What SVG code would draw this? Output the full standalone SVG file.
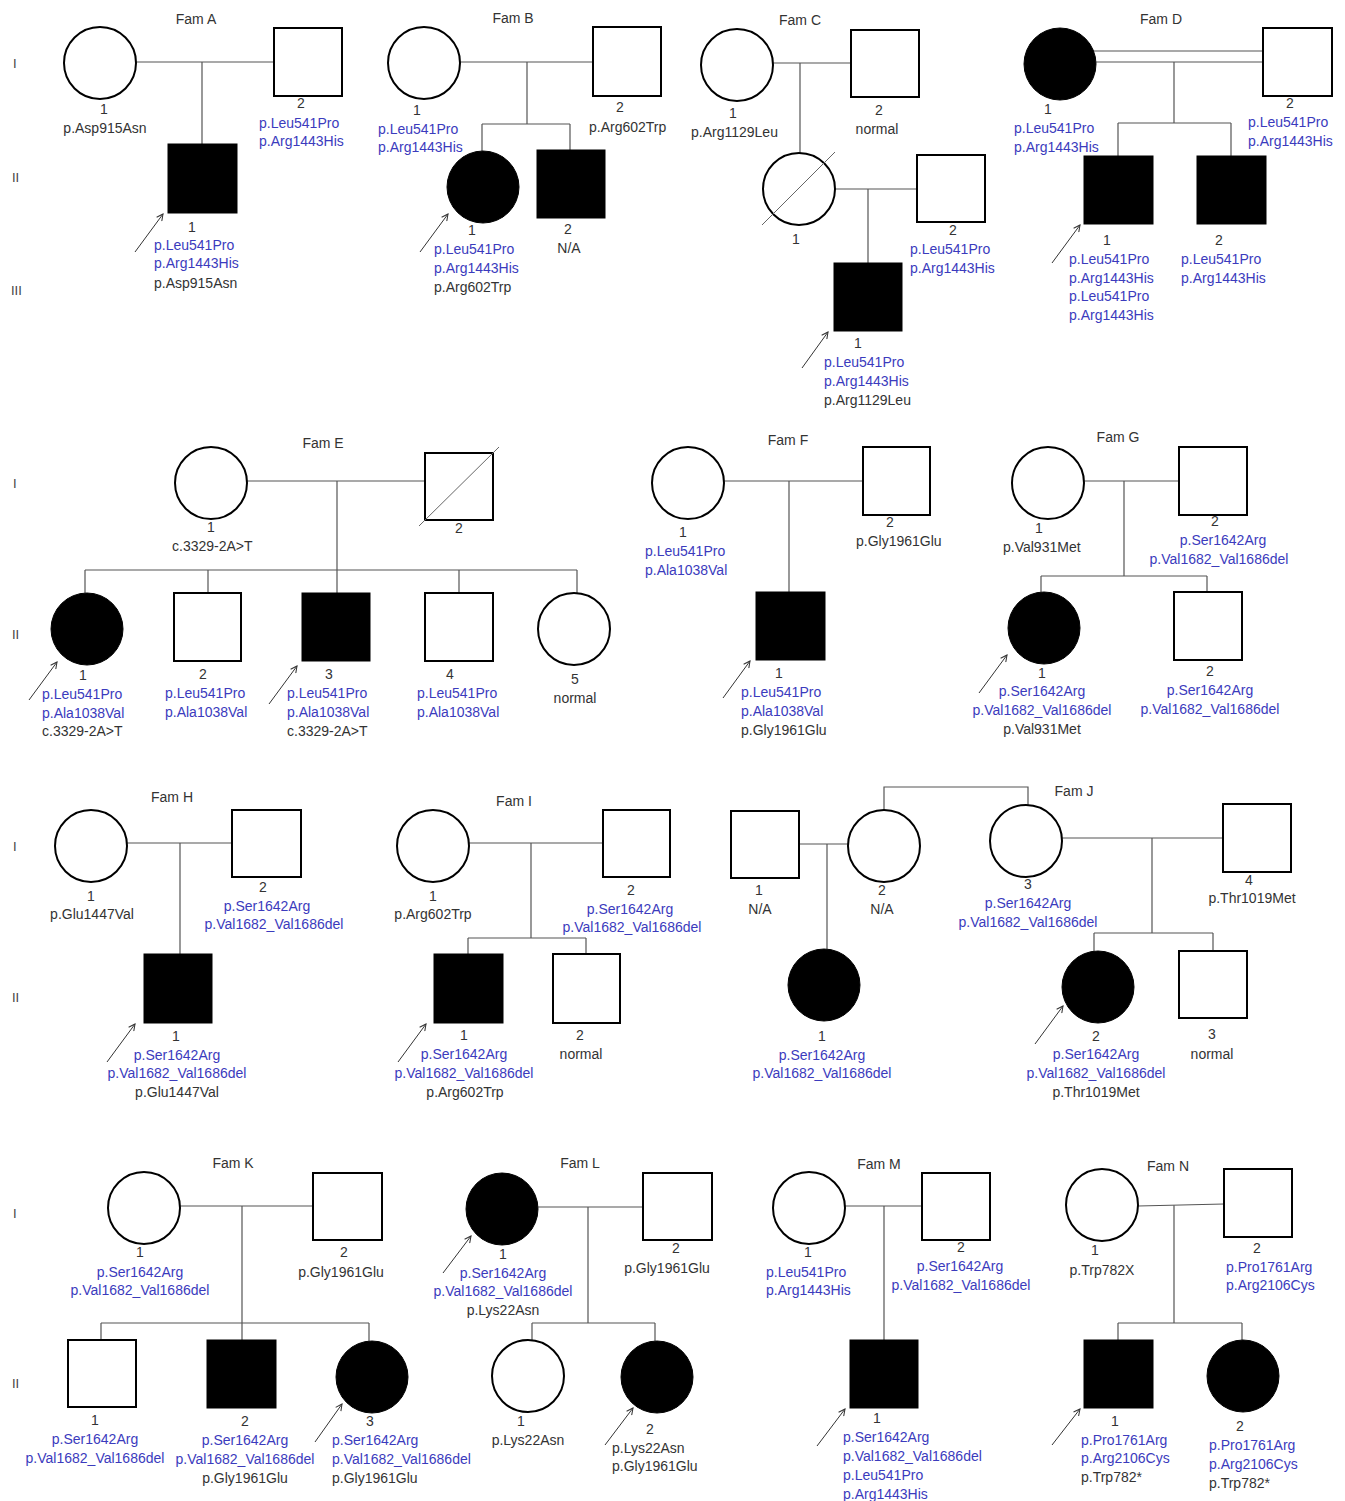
<svg xmlns="http://www.w3.org/2000/svg" width="1345" height="1501" viewBox="0 0 1345 1501">
<style>
.o{fill:#fff;stroke:#000;stroke-width:2}
.f{fill:#000;stroke:#000;stroke-width:1}
.ln{fill:none;stroke:#555;stroke-width:1.2}
.sl{fill:none;stroke:#666;stroke-width:1}
.ar{fill:none;stroke:#333;stroke-width:1;marker-end:url(#ah)}
text{font-family:"Liberation Sans",Arial,sans-serif;font-size:14px;fill:#333}
.b{fill:#3b3bbd}
.m{text-anchor:middle}
.g{font-size:13px;fill:#444}
</style>
<defs>
<marker id="ah" viewBox="0 0 10 10" refX="9" refY="5" markerWidth="8" markerHeight="8" markerUnits="userSpaceOnUse" orient="auto">
<path d="M1,1 L9,5 L1,9" fill="none" stroke="#333" stroke-width="1.3"/>
</marker>
</defs>
<rect width="1345" height="1501" fill="#fff"/>

<g id="labels">
<text class="g" x="13" y="68">I</text><text class="g" x="12" y="182">II</text><text class="g" x="11" y="295">III</text>
<text class="g" x="13" y="488">I</text><text class="g" x="12" y="639">II</text>
<text class="g" x="13" y="851">I</text><text class="g" x="12" y="1002">II</text>
<text class="g" x="13" y="1218">I</text><text class="g" x="12" y="1388">II</text>
<text class="m" x="196" y="24">Fam A</text>
<text class="m" x="513" y="23">Fam B</text>
<text class="m" x="800" y="25">Fam C</text>
<text class="m" x="1161" y="24">Fam D</text>
<text class="m" x="323" y="448">Fam E</text>
<text class="m" x="788" y="445">Fam F</text>
<text class="m" x="1118" y="442">Fam G</text>
<text class="m" x="172" y="802">Fam H</text>
<text class="m" x="514" y="806">Fam I</text>
<text class="m" x="1074" y="796">Fam J</text>
<text class="m" x="233" y="1168">Fam K</text>
<text class="m" x="580" y="1168">Fam L</text>
<text class="m" x="879" y="1169">Fam M</text>
<text class="m" x="1168" y="1171">Fam N</text>
</g>

<g id="connectors">
<!-- A -->
<path class="ln" d="M136,62 H274 M202,62 V144"/>
<path class="ar" d="M135,252 L163,214"/>
<!-- B -->
<path class="ln" d="M460,62 H593 M527,62 V124 M482,124 H570 M482,124 V151 M570,124 V150"/>
<path class="ar" d="M420,252 L448,214"/>
<!-- C -->
<path class="ln" d="M773,63 H851 M800,63 V153 M835,189 H917 M868,189 V263"/>
<path class="ar" d="M802,368 L828,332"/>
<!-- D -->
<path class="ln" d="M1093,51 H1263 M1096,62 H1263 M1174,62 V123 M1118,123 H1231 M1118,123 V156 M1231,123 V156"/>
<path class="ar" d="M1052,263 L1080,225"/>
<!-- E -->
<path class="ln" d="M247,481 H425 M337,481 V593 M85,570 H577 M85,570 V593 M208,570 V593 M459,570 V593 M577,570 V593"/>
<path class="ar" d="M29,700 L57,662"/>
<path class="ar" d="M269,704 L297,666"/>
<!-- F -->
<path class="ln" d="M724,481 H863 M789,481 V592"/>
<path class="ar" d="M723,698 L750,661"/>
<!-- G -->
<path class="ln" d="M1084,481 H1179 M1124,481 V576 M1041,576 H1207 M1041,576 V592 M1207,576 V592"/>
<path class="ar" d="M979,693 L1007,655"/>
<!-- H -->
<path class="ln" d="M127,843 H232 M180,843 V954"/>
<path class="ar" d="M107,1062 L135,1024"/>
<!-- I -->
<path class="ln" d="M469,843 H603 M531,843 V938 M468,938 H586 M468,938 V954 M586,938 V954"/>
<path class="ar" d="M398,1062 L426,1024"/>
<!-- J -->
<path class="ln" d="M799,844 H849 M827,844 V949 M884,810 V787 H1028 V805 M1062,838 H1223 M1152,838 V933 M1094,933 H1213 M1094,933 V951 M1213,933 V951"/>
<path class="ar" d="M1035,1044 L1063,1006"/>
<!-- K -->
<path class="ln" d="M180,1206 H313 M242,1206 V1340 M101,1323 H369 M101,1323 V1340 M369,1323 V1341"/>
<path class="ar" d="M315,1442 L342,1404"/>
<!-- L -->
<path class="ln" d="M538,1207 H643 M588,1207 V1323 M532,1323 H655 M532,1323 V1340 M655,1323 V1341"/>
<path class="ar" d="M443,1273 L471,1236"/>
<path class="ar" d="M605,1445 L633,1408"/>
<!-- M -->
<path class="ln" d="M845,1206 H922 M884,1206 V1340"/>
<path class="ar" d="M817,1446 L845,1409"/>
<!-- N -->
<path class="ln" d="M1138,1206 L1224,1204 M1174,1205 V1323 M1118,1323 H1242 M1118,1323 V1340 M1242,1323 V1340"/>
<path class="ar" d="M1052,1445 L1080,1409"/>
</g>

<!-- Fam A -->
<g id="A-I1"><circle class="o" cx="100" cy="63" r="36"/><text class="m" x="104" y="114">1</text><text class="m" x="105" y="133">p.Asp915Asn</text></g>
<g id="A-I2"><rect class="o" x="274" y="28" width="68" height="68"/><text class="m" x="301" y="108">2</text><text class="b" x="259" y="128">p.Leu541Pro</text><text class="b" x="259" y="146">p.Arg1443His</text></g>
<g id="A-II1"><rect class="f" x="168" y="144" width="69" height="69"/><text class="m" x="192" y="232">1</text><text class="b" x="154" y="250">p.Leu541Pro</text><text class="b" x="154" y="268">p.Arg1443His</text><text x="154" y="288">p.Asp915Asn</text></g>

<!-- Fam B -->
<g id="B-I1"><circle class="o" cx="424" cy="63" r="36"/><text class="m" x="417" y="115">1</text><text class="b" x="378" y="134">p.Leu541Pro</text><text class="b" x="378" y="152">p.Arg1443His</text></g>
<g id="B-I2"><rect class="o" x="593" y="27" width="68" height="69"/><text class="m" x="620" y="112">2</text><text x="589" y="132">p.Arg602Trp</text></g>
<g id="B-II1"><circle class="f" cx="483" cy="187" r="36"/><text class="m" x="472" y="235">1</text><text class="b" x="434" y="254">p.Leu541Pro</text><text class="b" x="434" y="273">p.Arg1443His</text><text x="434" y="292">p.Arg602Trp</text></g>
<g id="B-II2"><rect class="f" x="537" y="150" width="68" height="68"/><text class="m" x="568" y="234">2</text><text class="m" x="569" y="253">N/A</text></g>

<!-- Fam C -->
<g id="C-I1"><circle class="o" cx="737" cy="65" r="36"/><text class="m" x="733" y="118">1</text><text x="691" y="137">p.Arg1129Leu</text></g>
<g id="C-I2"><rect class="o" x="851" y="30" width="68" height="67"/><text class="m" x="879" y="115">2</text><text class="m" x="877" y="134">normal</text></g>
<g id="C-II1"><circle class="o" cx="799" cy="189" r="36"/><path class="sl" d="M762,225 L835,152"/><text class="m" x="796" y="244">1</text></g>
<g id="C-II2"><rect class="o" x="917" y="155" width="68" height="67"/><text class="m" x="953" y="235">2</text><text class="b" x="910" y="254">p.Leu541Pro</text><text class="b" x="910" y="273">p.Arg1443His</text></g>
<g id="C-III1"><rect class="f" x="834" y="263" width="68" height="68"/><text class="m" x="858" y="348">1</text><text class="b" x="824" y="367">p.Leu541Pro</text><text class="b" x="824" y="386">p.Arg1443His</text><text x="824" y="405">p.Arg1129Leu</text></g>

<!-- Fam D -->
<g id="D-I1"><circle class="f" cx="1060" cy="64" r="36"/><text class="m" x="1048" y="114">1</text><text class="b" x="1014" y="133">p.Leu541Pro</text><text class="b" x="1014" y="152">p.Arg1443His</text></g>
<g id="D-I2"><rect class="o" x="1263" y="28" width="69" height="68"/><text class="m" x="1290" y="108">2</text><text class="b" x="1248" y="127">p.Leu541Pro</text><text class="b" x="1248" y="146">p.Arg1443His</text></g>
<g id="D-II1"><rect class="f" x="1084" y="156" width="69" height="68"/><text class="m" x="1107" y="245">1</text><text class="b" x="1069" y="264">p.Leu541Pro</text><text class="b" x="1069" y="283">p.Arg1443His</text><text class="b" x="1069" y="301">p.Leu541Pro</text><text class="b" x="1069" y="320">p.Arg1443His</text></g>
<g id="D-II2"><rect class="f" x="1197" y="156" width="69" height="68"/><text class="m" x="1219" y="245">2</text><text class="b" x="1181" y="264">p.Leu541Pro</text><text class="b" x="1181" y="283">p.Arg1443His</text></g>

<!-- Fam E -->
<g id="E-I1"><circle class="o" cx="211" cy="483" r="36"/><text class="m" x="211" y="532">1</text><text x="172" y="551">c.3329-2A&gt;T</text></g>
<g id="E-I2"><rect class="o" x="425" y="453" width="68" height="67"/><path class="sl" d="M419,526 L499,447"/><text class="m" x="459" y="533">2</text></g>
<g id="E-II1"><circle class="f" cx="87" cy="629" r="36"/><text class="m" x="83" y="680">1</text><text class="b" x="42" y="699">p.Leu541Pro</text><text class="b" x="42" y="718">p.Ala1038Val</text><text x="42" y="736">c.3329-2A&gt;T</text></g>
<g id="E-II2"><rect class="o" x="174" y="593" width="67" height="68"/><text class="m" x="203" y="679">2</text><text class="b" x="165" y="698">p.Leu541Pro</text><text class="b" x="165" y="717">p.Ala1038Val</text></g>
<g id="E-II3"><rect class="f" x="302" y="593" width="68" height="68"/><text class="m" x="329" y="679">3</text><text class="b" x="287" y="698">p.Leu541Pro</text><text class="b" x="287" y="717">p.Ala1038Val</text><text x="287" y="736">c.3329-2A&gt;T</text></g>
<g id="E-II4"><rect class="o" x="425" y="593" width="68" height="68"/><text class="m" x="450" y="679">4</text><text class="b" x="417" y="698">p.Leu541Pro</text><text class="b" x="417" y="717">p.Ala1038Val</text></g>
<g id="E-II5"><circle class="o" cx="574" cy="629" r="36"/><text class="m" x="575" y="684">5</text><text class="m" x="575" y="703">normal</text></g>

<!-- Fam F -->
<g id="F-I1"><circle class="o" cx="688" cy="483" r="36"/><text class="m" x="683" y="537">1</text><text class="b" x="645" y="556">p.Leu541Pro</text><text class="b" x="645" y="575">p.Ala1038Val</text></g>
<g id="F-I2"><rect class="o" x="863" y="447" width="67" height="68"/><text class="m" x="890" y="527">2</text><text x="856" y="546">p.Gly1961Glu</text></g>
<g id="F-II1"><rect class="f" x="756" y="592" width="69" height="68"/><text class="m" x="779" y="678">1</text><text class="b" x="741" y="697">p.Leu541Pro</text><text class="b" x="741" y="716">p.Ala1038Val</text><text x="741" y="735">p.Gly1961Glu</text></g>

<!-- Fam G -->
<g id="G-I1"><circle class="o" cx="1048" cy="483" r="36"/><text class="m" x="1039" y="533">1</text><text x="1003" y="552">p.Val931Met</text></g>
<g id="G-I2"><rect class="o" x="1179" y="447" width="68" height="68"/><text class="m" x="1215" y="526">2</text><text class="b m" x="1223" y="545">p.Ser1642Arg</text><text class="b m" x="1219" y="564">p.Val1682_Val1686del</text></g>
<g id="G-II1"><circle class="f" cx="1044" cy="628" r="36"/><text class="m" x="1042" y="678">1</text><text class="b m" x="1042" y="696">p.Ser1642Arg</text><text class="b m" x="1042" y="715">p.Val1682_Val1686del</text><text class="m" x="1042" y="734">p.Val931Met</text></g>
<g id="G-II2"><rect class="o" x="1174" y="592" width="68" height="68"/><text class="m" x="1210" y="676">2</text><text class="b m" x="1210" y="695">p.Ser1642Arg</text><text class="b m" x="1210" y="714">p.Val1682_Val1686del</text></g>

<!-- Fam H -->
<g id="H-I1"><circle class="o" cx="91" cy="846" r="36"/><text class="m" x="91" y="901">1</text><text class="m" x="92" y="919">p.Glu1447Val</text></g>
<g id="H-I2"><rect class="o" x="232" y="810" width="69" height="67"/><text class="m" x="263" y="892">2</text><text class="b m" x="267" y="911">p.Ser1642Arg</text><text class="b m" x="274" y="929">p.Val1682_Val1686del</text></g>
<g id="H-II1"><rect class="f" x="144" y="954" width="68" height="69"/><text class="m" x="176" y="1041">1</text><text class="b m" x="177" y="1060">p.Ser1642Arg</text><text class="b m" x="177" y="1078">p.Val1682_Val1686del</text><text class="m" x="177" y="1097">p.Glu1447Val</text></g>

<!-- Fam I -->
<g id="I-I1"><circle class="o" cx="433" cy="846" r="36"/><text class="m" x="433" y="901">1</text><text class="m" x="433" y="919">p.Arg602Trp</text></g>
<g id="I-I2"><rect class="o" x="603" y="810" width="67" height="67"/><text class="m" x="631" y="895">2</text><text class="b m" x="630" y="914">p.Ser1642Arg</text><text class="b m" x="632" y="932">p.Val1682_Val1686del</text></g>
<g id="I-II1"><rect class="f" x="434" y="954" width="69" height="69"/><text class="m" x="464" y="1040">1</text><text class="b m" x="464" y="1059">p.Ser1642Arg</text><text class="b m" x="464" y="1078">p.Val1682_Val1686del</text><text class="m" x="465" y="1097">p.Arg602Trp</text></g>
<g id="I-II2"><rect class="o" x="553" y="954" width="67" height="69"/><text class="m" x="580" y="1040">2</text><text class="m" x="581" y="1059">normal</text></g>

<!-- Fam J -->
<g id="J-I1"><rect class="o" x="731" y="811" width="68" height="67"/><text class="m" x="759" y="895">1</text><text class="m" x="760" y="914">N/A</text></g>
<g id="J-I2"><circle class="o" cx="884" cy="846" r="36"/><text class="m" x="882" y="895">2</text><text class="m" x="882" y="914">N/A</text></g>
<g id="J-II1"><circle class="f" cx="824" cy="985" r="36"/><text class="m" x="822" y="1041">1</text><text class="b m" x="822" y="1060">p.Ser1642Arg</text><text class="b m" x="822" y="1078">p.Val1682_Val1686del</text></g>
<g id="J-I3"><circle class="o" cx="1026" cy="841" r="36"/><text class="m" x="1028" y="889">3</text><text class="b m" x="1028" y="908">p.Ser1642Arg</text><text class="b m" x="1028" y="927">p.Val1682_Val1686del</text></g>
<g id="J-I4"><rect class="o" x="1223" y="804" width="68" height="68"/><text class="m" x="1249" y="885">4</text><text class="m" x="1252" y="903">p.Thr1019Met</text></g>
<g id="J-II2"><circle class="f" cx="1098" cy="987" r="36"/><text class="m" x="1096" y="1041">2</text><text class="b m" x="1096" y="1059">p.Ser1642Arg</text><text class="b m" x="1096" y="1078">p.Val1682_Val1686del</text><text class="m" x="1096" y="1097">p.Thr1019Met</text></g>
<g id="J-II3"><rect class="o" x="1179" y="951" width="68" height="67"/><text class="m" x="1212" y="1039">3</text><text class="m" x="1212" y="1059">normal</text></g>

<!-- Fam K -->
<g id="K-I1"><circle class="o" cx="144" cy="1208" r="36"/><text class="m" x="140" y="1257">1</text><text class="b m" x="140" y="1277">p.Ser1642Arg</text><text class="b m" x="140" y="1295">p.Val1682_Val1686del</text></g>
<g id="K-I2"><rect class="o" x="313" y="1173" width="69" height="67"/><text class="m" x="344" y="1257">2</text><text class="m" x="341" y="1277">p.Gly1961Glu</text></g>
<g id="K-II1"><rect class="o" x="68" y="1340" width="68" height="67"/><text class="m" x="95" y="1425">1</text><text class="b m" x="95" y="1444">p.Ser1642Arg</text><text class="b m" x="95" y="1463">p.Val1682_Val1686del</text></g>
<g id="K-II2"><rect class="f" x="207" y="1340" width="69" height="68"/><text class="m" x="245" y="1426">2</text><text class="b m" x="245" y="1445">p.Ser1642Arg</text><text class="b m" x="245" y="1464">p.Val1682_Val1686del</text><text class="m" x="245" y="1483">p.Gly1961Glu</text></g>
<g id="K-II3"><circle class="f" cx="372" cy="1377" r="36"/><text class="m" x="370" y="1426">3</text><text class="b" x="332" y="1445">p.Ser1642Arg</text><text class="b" x="332" y="1464">p.Val1682_Val1686del</text><text x="332" y="1483">p.Gly1961Glu</text></g>

<!-- Fam L -->
<g id="L-I1"><circle class="f" cx="502" cy="1209" r="36"/><text class="m" x="503" y="1259">1</text><text class="b m" x="503" y="1278">p.Ser1642Arg</text><text class="b m" x="503" y="1296">p.Val1682_Val1686del</text><text class="m" x="503" y="1315">p.Lys22Asn</text></g>
<g id="L-I2"><rect class="o" x="643" y="1173" width="69" height="67"/><text class="m" x="676" y="1253">2</text><text class="m" x="667" y="1273">p.Gly1961Glu</text></g>
<g id="L-II1"><circle class="o" cx="528" cy="1376" r="36"/><text class="m" x="521" y="1426">1</text><text class="m" x="528" y="1445">p.Lys22Asn</text></g>
<g id="L-II2"><circle class="f" cx="657" cy="1377" r="36"/><text class="m" x="650" y="1434">2</text><text x="612" y="1453">p.Lys22Asn</text><text x="612" y="1471">p.Gly1961Glu</text></g>

<!-- Fam M -->
<g id="M-I1"><circle class="o" cx="809" cy="1208" r="36"/><text class="m" x="808" y="1257">1</text><text class="b" x="766" y="1277">p.Leu541Pro</text><text class="b" x="766" y="1295">p.Arg1443His</text></g>
<g id="M-I2"><rect class="o" x="922" y="1173" width="68" height="67"/><text class="m" x="961" y="1252">2</text><text class="b m" x="960" y="1271">p.Ser1642Arg</text><text class="b m" x="961" y="1290">p.Val1682_Val1686del</text></g>
<g id="M-II1"><rect class="f" x="850" y="1340" width="68" height="68"/><text class="m" x="877" y="1423">1</text><text class="b" x="843" y="1442">p.Ser1642Arg</text><text class="b" x="843" y="1461">p.Val1682_Val1686del</text><text class="b" x="843" y="1480">p.Leu541Pro</text><text class="b" x="843" y="1499">p.Arg1443His</text></g>

<!-- Fam N -->
<g id="N-I1"><circle class="o" cx="1102" cy="1205" r="36"/><text class="m" x="1095" y="1255">1</text><text class="m" x="1102" y="1275">p.Trp782X</text></g>
<g id="N-I2"><rect class="o" x="1224" y="1169" width="68" height="68"/><text class="m" x="1257" y="1253">2</text><text class="b" x="1226" y="1272">p.Pro1761Arg</text><text class="b" x="1226" y="1290">p.Arg2106Cys</text></g>
<g id="N-II1"><rect class="f" x="1084" y="1340" width="69" height="68"/><text class="m" x="1115" y="1426">1</text><text class="b" x="1081" y="1445">p.Pro1761Arg</text><text class="b" x="1081" y="1463">p.Arg2106Cys</text><text x="1081" y="1482">p.Trp782*</text></g>
<g id="N-II2"><circle class="f" cx="1243" cy="1376" r="36"/><text class="m" x="1240" y="1431">2</text><text class="b" x="1209" y="1450">p.Pro1761Arg</text><text class="b" x="1209" y="1469">p.Arg2106Cys</text><text x="1209" y="1488">p.Trp782*</text></g>
</svg>
